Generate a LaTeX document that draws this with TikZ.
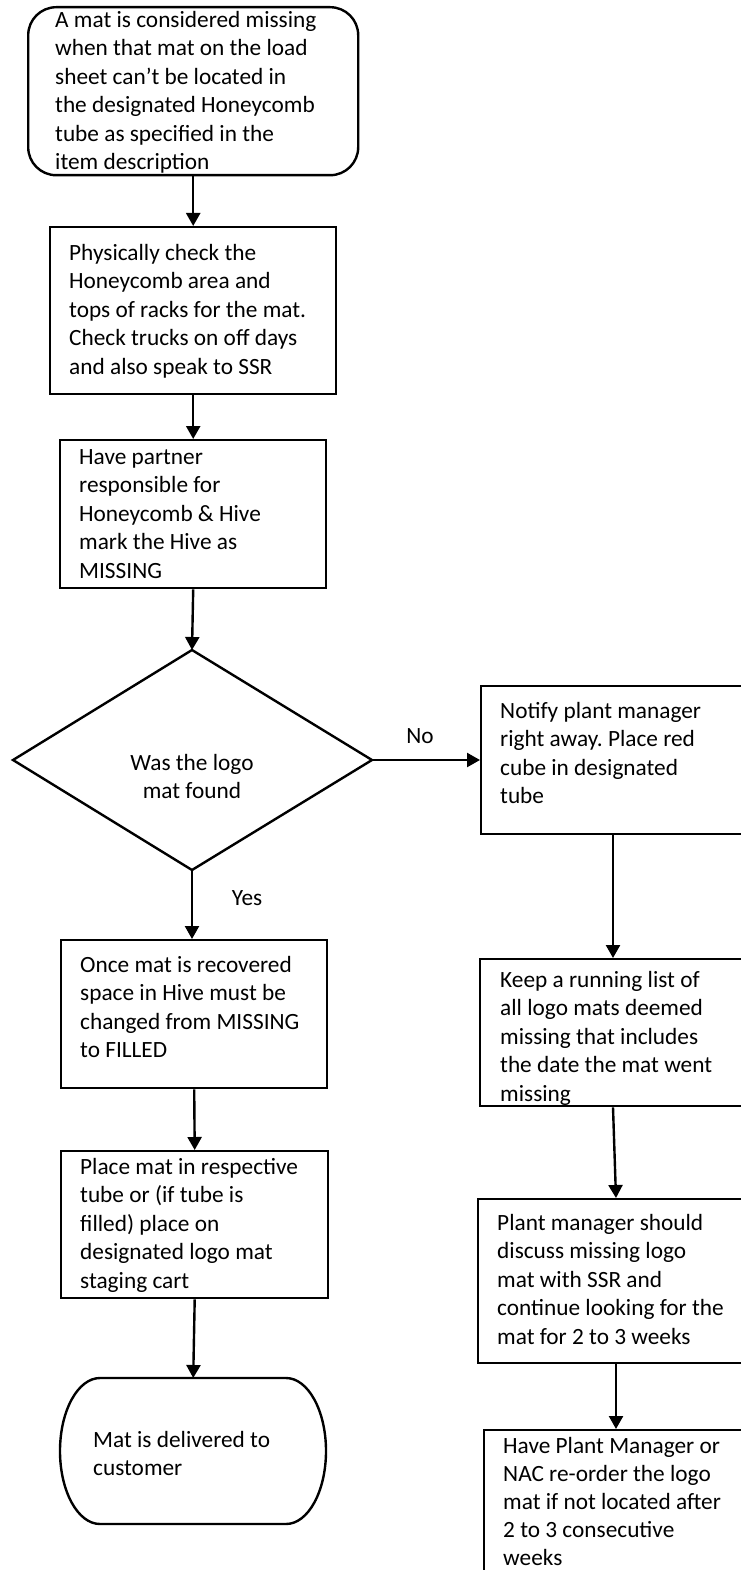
\documentclass[tikz,border=0pt]{standalone}
\usepackage{fontspec}
\setmainfont{Carlito}
\usetikzlibrary{arrows.meta}
\newcommand\myst{\rule{0pt}{20pt}}
\frenchspacing
\begin{document}
\begin{tikzpicture}[x=1pt,y=-1pt,
  lw/.style={line width=2.4pt},
  boxs/.style={draw, lw, rectangle, inner sep=0pt, anchor=north west},
  txt/.style={inner sep=0pt, anchor=north west, align=left, font=\fontsize{23.3}{28.5}\selectfont},
  lbl/.style={inner sep=0pt, anchor=base, font=\fontsize{23.3}{28.5}\selectfont},
  arr/.style={lw, -{Triangle[length=13pt,width=14pt]}}
]
\useasboundingbox (0,0) rectangle (740,1570);
\fill[white] (0,0) rectangle (740,1570);

% shapes
\node[boxs, rounded corners=28pt, minimum width=330pt, minimum height=168pt] (n1) at (27,6) {};
\node[boxs, minimum width=286pt, minimum height=167pt] (n2) at (49,226) {};
\node[boxs, minimum width=266pt, minimum height=148pt] (n3) at (59,439) {};
\coordinate (dt) at (192,650);
\coordinate (dr) at (372,760);
\coordinate (db) at (192,870);
\coordinate (dl) at (13,760);
\draw[lw, line join=miter] (dt) -- (dr) -- (db) -- (dl) -- cycle;
\node[boxs, minimum width=265pt, minimum height=148pt] (r1) at (480,685) {};
\node[boxs, minimum width=266pt, minimum height=147pt] (r2) at (479,958) {};
\node[boxs, minimum width=268pt, minimum height=164pt] (r3) at (477,1198) {};
\node[boxs, minimum width=262pt, minimum height=160pt] (r4) at (483,1429) {};
\node[boxs, minimum width=266pt, minimum height=148pt] (l1) at (60,939) {};
\node[boxs, minimum width=267pt, minimum height=147pt] (l2) at (60,1150) {};
\node[inner sep=0pt, anchor=north west, minimum width=266pt, minimum height=146pt] (term) at (60,1378) {};
\draw[lw] (100,1378) -- (286,1378)
  arc[start angle=90, end angle=-90, x radius=40pt, y radius=73pt]
  -- (100,1524)
  arc[start angle=270, end angle=90, x radius=40pt, y radius=73pt] -- cycle;

% texts
\node[txt] (t1) at (55,7) {\myst A mat is considered missing\\when that mat on the load\\sheet can’t be located in\\the designated Honeycomb\\tube as specified in the\\item description};
\node[txt] (t2) at (69,240) {\myst Physically check the\\Honeycomb area and\\tops of racks for the mat.\\Check trucks on off days\\and also speak to SSR};
\node[txt] (t3) at (79,444) {\myst Have partner\\responsible for\\Honeycomb \& Hive\\mark the Hive as\\MISSING};
\node[txt, anchor=north, align=center] (td) at (192,750) {\myst Was the logo\\mat found};
\node[txt] (tr1) at (500,698) {\myst Notify plant manager\\right away. Place red\\cube in designated\\tube};
\node[txt] (tr2) at (500,967) {\myst Keep a running list of\\all logo mats deemed\\missing that includes\\the date the mat went\\missing};
\node[txt] (tr3) at (497,1210) {\myst Plant manager should\\discuss missing logo\\mat with SSR and\\continue looking for the\\mat for 2 to 3 weeks};
\node[txt, font=\fontsize{23.3}{28}\selectfont] (tr4) at (503,1433) {\myst Have Plant Manager or\\NAC re-order the logo\\mat if not located after\\2 to 3 consecutive\\weeks};
\node[txt] (tl1) at (80,952) {\myst Once mat is recovered\\space in Hive must be\\changed from MISSING\\to FILLED};
\node[txt] (tl2) at (80,1154) {\myst Place mat in respective\\tube or (if tube is\\filled) place on\\designated logo mat\\staging cart};
\node[txt] (tt) at (93,1427) {\myst Mat is delivered to\\customer};
\node[lbl] (no) at (420,743) {No};
\node[lbl] (yes) at (247,905) {Yes};

% connectors
\draw[arr] (n1.south) -- (n2.north);
\draw[arr] (n2.south) -- (n3.north);
\draw[arr] (n3.south) -- (dt);
\draw[arr] (dr) -- (dr -| r1.west);
\draw[arr] (db) -- (db |- l1.north);
\draw[arr] (l1.south) -- (l2.north);
\draw[arr] (l2.south) -- (term.north);
\draw[arr] ([xshift=133pt]r1.south west) -- ([xshift=134pt]r2.north west);
\draw[arr] ([xshift=134pt]r2.south west) -- ([xshift=139pt]r3.north west);
\draw[arr] ([xshift=139pt]r3.south west) -- ([xshift=133pt]r4.north west);
\end{tikzpicture}
\end{document}
